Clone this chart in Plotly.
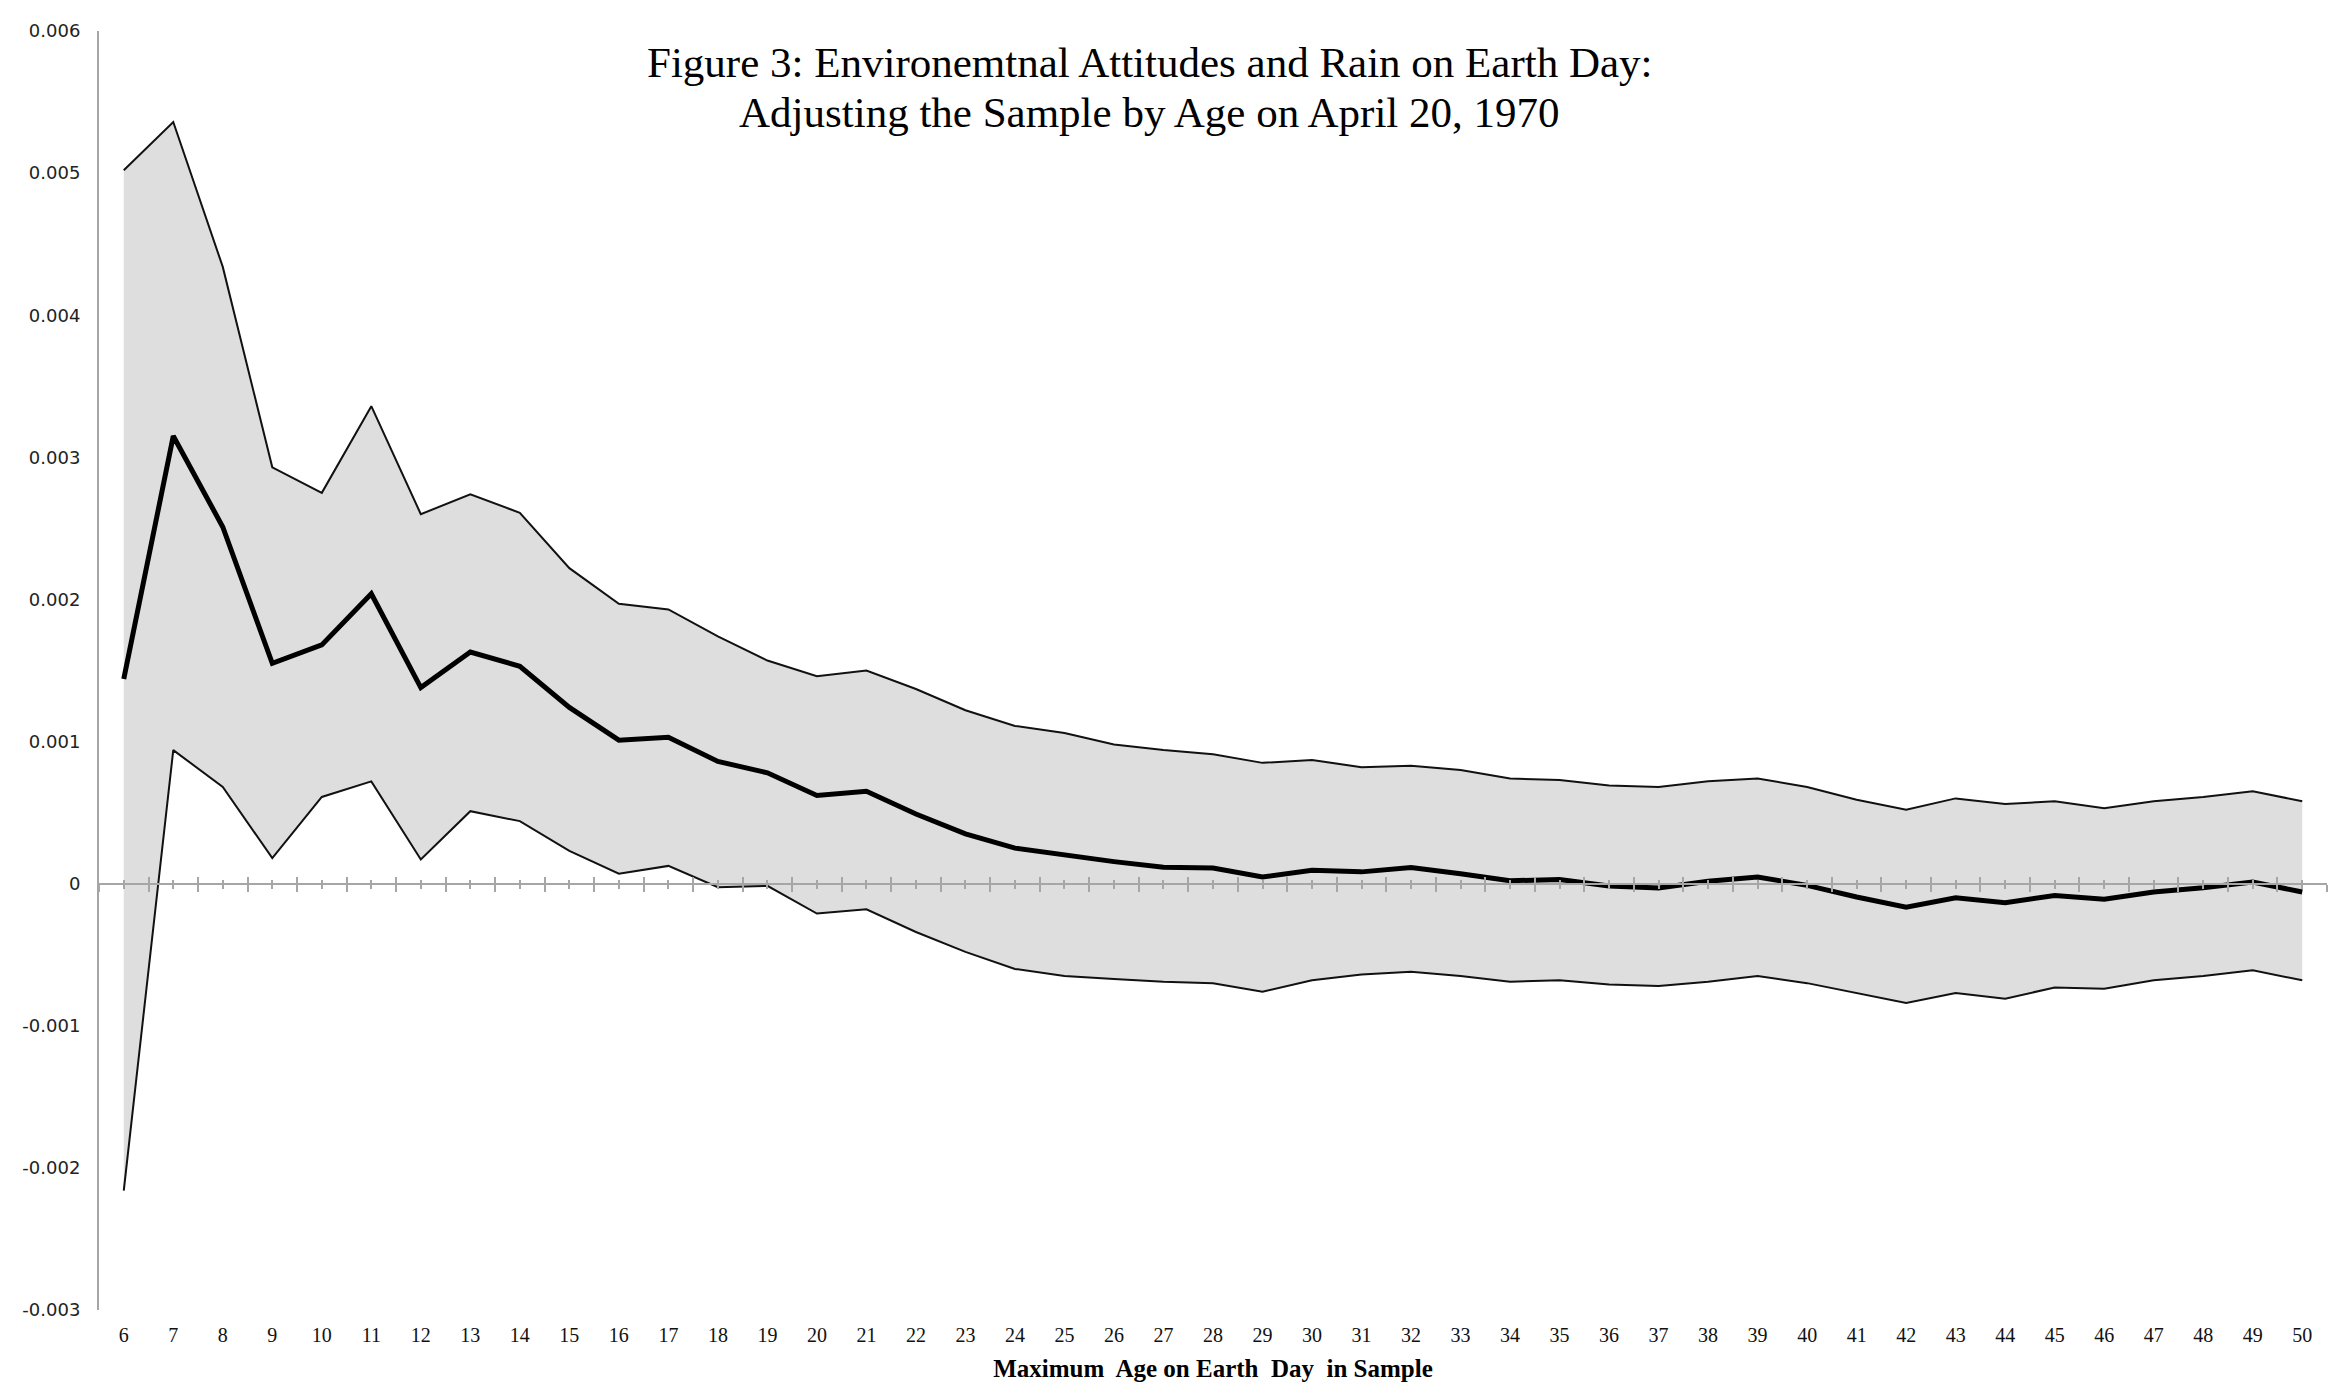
import plotly.graph_objects as go

# ---- data ----
ages = list(range(6, 51))
age_labels = [str(a) for a in ages]

estimate = [1.44e-3, 3.15e-3, 2.51e-3, 1.55e-3, 1.68e-3, 2.04e-3, 1.38e-3, 1.63e-3, 1.53e-3, 1.24e-3,
            1.01e-3, 1.03e-3, 0.86e-3, 0.78e-3, 0.62e-3, 0.65e-3, 0.49e-3, 0.35e-3, 0.25e-3, 0.20e-3,
            0.155e-3, 0.115e-3, 0.11e-3, 0.047e-3, 0.094e-3, 0.083e-3, 0.113e-3, 0.07e-3, 0.02e-3, 0.03e-3,
            -0.017e-3, -0.031e-3, 0.017e-3, 0.047e-3, -0.012e-3, -0.094e-3, -0.165e-3, -0.10e-3, -0.134e-3, -0.083e-3,
            -0.11e-3, -0.059e-3, -0.028e-3, 0.012e-3, -0.059e-3]

upper = [5.02e-3, 5.36e-3, 4.34e-3, 2.93e-3, 2.75e-3, 3.36e-3, 2.60e-3, 2.74e-3, 2.61e-3, 2.22e-3,
         1.97e-3, 1.93e-3, 1.74e-3, 1.57e-3, 1.46e-3, 1.50e-3, 1.37e-3, 1.22e-3, 1.11e-3, 1.06e-3,
         0.98e-3, 0.94e-3, 0.91e-3, 0.85e-3, 0.87e-3, 0.82e-3, 0.83e-3, 0.80e-3, 0.74e-3, 0.73e-3,
         0.69e-3, 0.68e-3, 0.72e-3, 0.74e-3, 0.68e-3, 0.59e-3, 0.52e-3, 0.60e-3, 0.56e-3, 0.58e-3,
         0.53e-3, 0.58e-3, 0.61e-3, 0.65e-3, 0.58e-3]

lower = [-2.16e-3, 0.94e-3, 0.68e-3, 0.18e-3, 0.61e-3, 0.72e-3, 0.17e-3, 0.51e-3, 0.44e-3, 0.23e-3,
         0.07e-3, 0.125e-3, -0.025e-3, -0.015e-3, -0.21e-3, -0.18e-3, -0.34e-3, -0.48e-3, -0.60e-3, -0.65e-3,
         -0.67e-3, -0.69e-3, -0.70e-3, -0.76e-3, -0.68e-3, -0.64e-3, -0.62e-3, -0.65e-3, -0.69e-3, -0.68e-3,
         -0.71e-3, -0.72e-3, -0.69e-3, -0.65e-3, -0.70e-3, -0.77e-3, -0.84e-3, -0.77e-3, -0.81e-3, -0.73e-3,
         -0.74e-3, -0.68e-3, -0.65e-3, -0.61e-3, -0.68e-3]

y_tickvals = [-0.003, -0.002, -0.001, 0, 0.001, 0.002, 0.003, 0.004, 0.005, 0.006]
y_ticktext = ["-0.003", "-0.002", "-0.001", "0", "0.001", "0.002", "0.003", "0.004", "0.005", "0.006"]

title_line1 = "Figure 3: Environemtnal Attitudes and Rain on Earth Day:"
title_line2 = "Adjusting the Sample by Age on April 20, 1970"
x_title = "Maximum  Age on Earth  Day  in Sample"

# ---- figure ----
W, H = 2346, 1391
AXIS_GRAY = "#a6a6a6"
FILL = "#dedede"

fig = go.Figure()

# shaded band (fill only)
fig.add_trace(go.Scatter(x=ages, y=lower, mode="lines", line=dict(width=0, color=FILL),
                         showlegend=False, hoverinfo="skip"))
fig.add_trace(go.Scatter(x=ages, y=upper, mode="lines", line=dict(width=0, color=FILL),
                         fill="tonexty", fillcolor=FILL, showlegend=False, hoverinfo="skip"))
# bound lines
fig.add_trace(go.Scatter(x=ages, y=upper, mode="lines", line=dict(width=2, color="#111111"),
                         showlegend=False))
fig.add_trace(go.Scatter(x=ages, y=lower, mode="lines", line=dict(width=2, color="#111111"),
                         showlegend=False))
# estimate line
fig.add_trace(go.Scatter(x=ages, y=estimate, mode="lines", line=dict(width=5, color="#000000"),
                         showlegend=False))

# invisible traces to activate the overlay axes used for the zero line with crossing ticks
fig.add_trace(go.Scatter(x=ages, y=estimate, mode="none", xaxis="x2", showlegend=False, hoverinfo="skip"))
fig.add_trace(go.Scatter(x=ages, y=estimate, mode="none", xaxis="x3", showlegend=False, hoverinfo="skip"))

xr = [ages[0] - 0.5, ages[-1] + 0.5]
boundaries = [a - 0.5 for a in ages] + [ages[-1] + 0.5]
zero_pos = (0 - y_tickvals[0]) / (y_tickvals[-1] - y_tickvals[0])

title_font = dict(family="Liberation Serif", size=43, color="#000000")

fig.update_layout(
    width=W, height=H,
    paper_bgcolor="white", plot_bgcolor="white",
    margin=dict(l=91, r=27, t=19, b=89),
    annotations=[
        dict(text=title_line1, xref="paper", yref="paper", x=0.4717, y=0.9755,
             xanchor="center", yanchor="middle", showarrow=False, font=title_font),
        dict(text=title_line2, xref="paper", yref="paper", x=0.4717, y=0.9365,
             xanchor="center", yanchor="middle", showarrow=False, font=title_font),
    ],
    xaxis=dict(range=xr, showline=False, showgrid=False, zeroline=False,
               tickmode="array", tickvals=ages, ticktext=age_labels, ticks="",
               tickfont=dict(family="Liberation Serif", size=20, color="#111111"),
               ticklabelstandoff=11,
               title=dict(text=x_title, standoff=14,
                          font=dict(family="Liberation Serif", size=25, color="#000000", weight="bold"))),
    xaxis2=dict(range=xr, overlaying="x", anchor="free", position=zero_pos, side="bottom",
                showline=True, linecolor=AXIS_GRAY, linewidth=2, showgrid=False, zeroline=False,
                showticklabels=False, tickmode="array", tickvals=boundaries,
                ticks="outside", ticklen=7, tickwidth=2, tickcolor=AXIS_GRAY,
                minor=dict(tickmode="array", tickvals=ages, ticks="outside", ticklen=4,
                           tickwidth=2, tickcolor=AXIS_GRAY, showgrid=False)),
    xaxis3=dict(range=xr, overlaying="x", anchor="free", position=zero_pos, side="bottom",
                showline=False, showgrid=False, zeroline=False,
                showticklabels=False, tickmode="array", tickvals=boundaries,
                ticks="inside", ticklen=7, tickwidth=2, tickcolor=AXIS_GRAY,
                minor=dict(tickmode="array", tickvals=ages, ticks="inside", ticklen=4,
                           tickwidth=2, tickcolor=AXIS_GRAY, showgrid=False)),
    yaxis=dict(range=[y_tickvals[0], y_tickvals[-1]], showline=True, linecolor=AXIS_GRAY, linewidth=2,
               showgrid=False, zeroline=False, ticks="",
               tickmode="array", tickvals=y_tickvals, ticktext=y_ticktext,
               ticklabelstandoff=13,
               tickfont=dict(family="DejaVu Sans", size=18, color="#222222")),
)

fig.write_html("out.html")
